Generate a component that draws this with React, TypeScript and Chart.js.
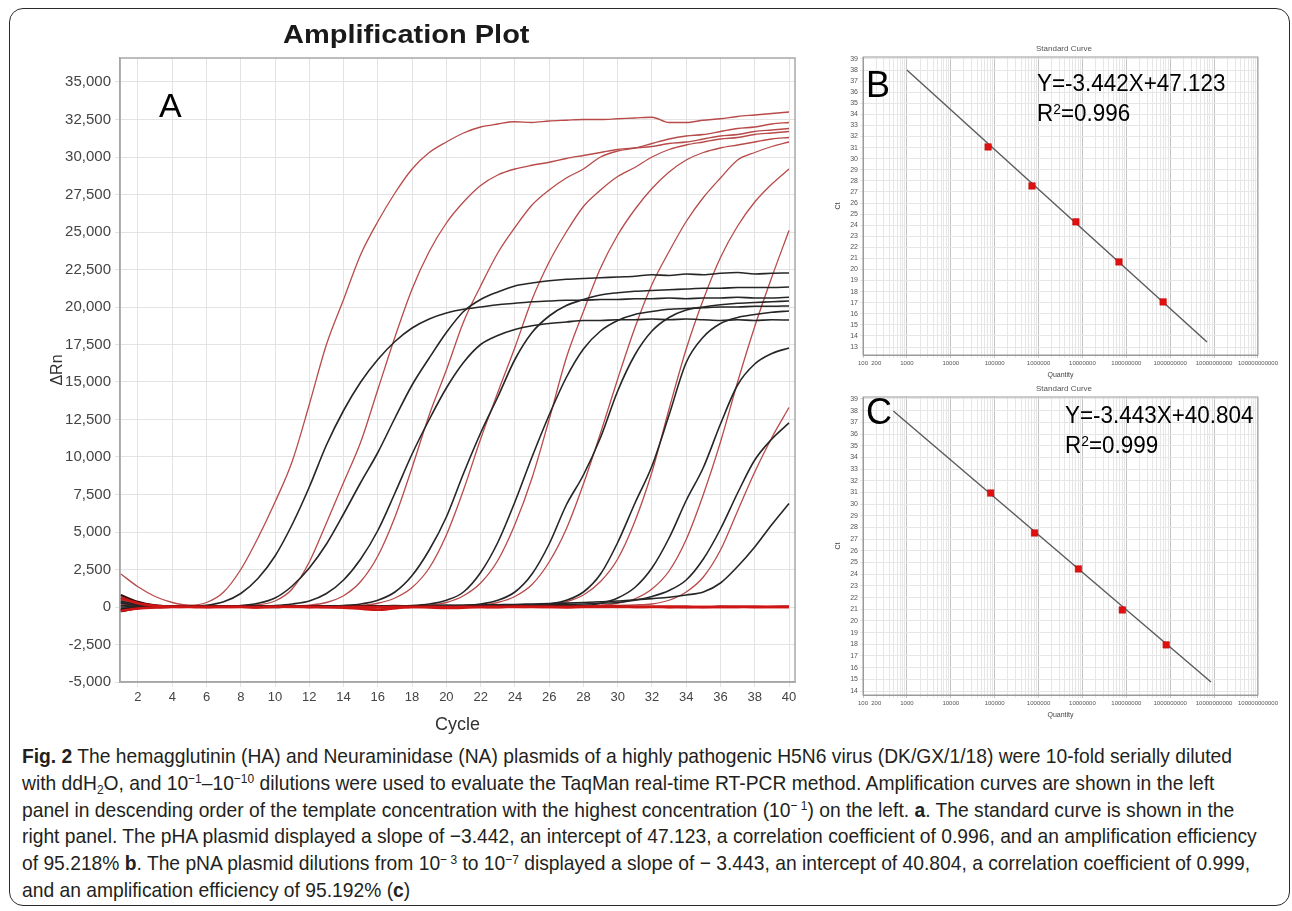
import React, { useEffect, useLayoutEffect, useRef, useState } from 'react';
import { Chart, registerables } from 'chart.js';

Chart.register(...registerables);

// ---------- Panel A data (Amplification Plot) ----------
const cycles = [1, 2, 3, 4, 5, 6, 7, 8, 9, 10, 11, 12, 13, 14, 15, 16, 17, 18, 19, 20, 21, 22, 23, 24, 25, 26, 27, 28, 29, 30, 31, 32, 33, 34, 35, 36, 37, 38, 39, 40];
const xTicksA = [2, 4, 6, 8, 10, 12, 14, 16, 18, 20, 22, 24, 26, 28, 30, 32, 34, 36, 38, 40];
const yTicksA = [-5000, -2500, 0, 2500, 5000, 7500, 10000, 12500, 15000, 17500, 20000, 22500, 25000, 27500, 30000, 32500, 35000];

const red1 = [2200, 1350, 700, 300, 120, 300, 1000, 2500, 4600, 7000, 9700, 13500, 17500, 20500, 23500, 25700, 27600, 29200, 30300, 31000, 31600, 32000, 32200, 32350, 32300, 32400, 32450, 32500, 32500, 32550, 32600, 32650, 32300, 32300, 32450, 32550, 32700, 32800, 32900, 33000];
const red2 = [350, 180, 90, 60, 50, 40, 50, 80, 150, 400, 1200, 3000, 5600, 8300, 11000, 14500, 18000, 21200, 23700, 25600, 27000, 28100, 28800, 29200, 29450, 29650, 29900, 30100, 30300, 30500, 30600, 30700, 30900, 31000, 31200, 31400, 31500, 31700, 31800, 31900];
const red3 = [-200, -50, 20, 40, 50, 50, 60, 50, 60, 70, 80, 120, 300, 750, 1700, 3400, 6000, 9300, 12800, 15800, 19000, 21400, 23600, 25300, 26800, 27800, 28600, 29200, 30000, 30400, 30600, 30900, 31200, 31400, 31500, 31700, 31900, 32000, 32200, 32300];
const red4 = [500, 200, 60, 30, 40, 50, 40, 60, 50, 60, 70, 60, 80, 70, 100, 250, 600, 1300, 2600, 4800, 7800, 11200, 14300, 17300, 20500, 23000, 25000, 26700, 27800, 28700, 29300, 30000, 30500, 30800, 31000, 31200, 31300, 31500, 31600, 31700];
const red5 = [100, 60, 40, 30, 20, 40, 50, 40, 30, 50, 60, 40, 50, 60, 50, 70, 60, 80, 120, 300, 750, 1600, 3100, 5500, 8600, 12500, 16600, 19700, 22600, 24800, 26500, 27900, 29000, 29800, 30300, 30600, 30800, 31000, 31200, 31300];
const red6 = [-300, -100, 0, 30, 40, 20, 30, 40, 50, 30, 40, 60, 50, 40, 60, 50, 70, 60, 50, 70, 80, 120, 300, 700, 1500, 3000, 5200, 8200, 11600, 15200, 18600, 21500, 23700, 25700, 27300, 28600, 29800, 30300, 30700, 31000];
const red7 = [700, 300, 100, 50, 40, 30, 40, 50, 60, 40, 30, 50, 60, 40, 50, -150, -100, 40, 60, 50, 70, 60, 80, 70, 90, 150, 350, 800, 1700, 3200, 5700, 9000, 13200, 17200, 20500, 23300, 25400, 27000, 28200, 29200];
const red8 = [200, 100, 60, 40, 30, 50, 40, 30, 50, 60, 40, 50, 30, 40, 60, 50, 40, 60, 50, 40, 60, 70, 50, 60, 70, 80, 90, 100, 120, 250, 550, 1200, 2400, 4500, 7500, 11000, 15000, 18700, 22000, 25100];
const red9 = [400, 150, 50, 30, 40, 30, 50, 40, 30, 50, 40, 60, 50, 40, 30, 50, 60, 40, 50, 60, 40, 50, 60, 70, 60, 80, 70, 90, 100, 110, 140, 200, 450, 1000, 2000, 3800, 6400, 9000, 11300, 13300];

const black1 = [-100, 0, 30, 40, 60, 120, 350, 900, 1900, 3400, 5500, 8000, 10800, 13100, 15000, 16500, 17700, 18600, 19200, 19600, 19850, 20000, 20150, 20250, 20350, 20400, 20450, 20450, 20500, 20500, 20550, 20550, 20600, 20550, 20600, 20600, 20650, 20600, 20600, 20650];
const black2 = [600, 300, 100, 50, 40, 50, 60, 100, 250, 600, 1400, 2600, 4200, 6200, 8300, 10300, 12600, 14800, 16600, 18300, 19700, 20500, 21000, 21400, 21600, 21750, 21850, 21900, 21950, 22000, 22050, 22150, 22100, 22200, 22150, 22250, 22300, 22200, 22250, 22270];
const black3 = [-200, -50, 20, 40, 50, 60, 40, 50, 60, 100, 200, 400, 900, 1800, 3200, 5100, 7600, 10200, 12500, 14600, 16300, 17500, 18100, 18500, 18750, 18900, 19000, 19100, 19100, 19150, 19150, 19200, 19150, 19200, 19150, 19100, 19150, 19100, 19150, 19130];
const black4 = [300, 100, 40, 30, 50, 40, 60, 50, 40, 60, 50, 70, 60, 100, 200, 450, 1000, 2100, 3800, 6000, 8900, 11600, 14000, 16500, 18300, 19400, 20100, 20500, 20800, 20950, 21050, 21100, 21150, 21200, 21250, 21250, 21300, 21300, 21300, 21330];
const black5 = [0, 50, 40, 30, 50, 40, 30, 60, 50, 40, 60, 50, 70, 60, 50, 70, 80, 100, 200, 450, 1000, 2300, 4300, 7000, 10000, 12800, 15300, 17200, 18400, 19100, 19500, 19700, 19850, 19900, 19950, 20000, 20000, 20050, 20050, 20070];
const black6 = [-150, 0, 30, 40, 30, 50, 40, 60, 50, 40, 60, 50, 40, 70, 60, 50, 60, 70, 80, 90, 100, 200, 450, 1000, 2200, 4200, 6800, 8800, 11300, 14400, 16800, 18400, 19300, 19800, 20000, 20150, 20250, 20300, 20350, 20400];
const black7 = [400, 150, 60, 40, 30, 50, 40, 30, 50, 60, 40, 50, 60, 70, 50, 60, 70, 80, 60, 70, 90, 100, 110, 90, 100, 200, 450, 1000, 2200, 4300, 6900, 9400, 12800, 16300, 18000, 18900, 19300, 19500, 19650, 19730];
const black8 = [100, 50, 30, 40, 50, 30, 40, 60, 50, 40, 30, 50, 60, 40, 50, 60, 70, 50, 60, 80, 70, 90, 80, 100, 110, 120, 100, 100, 250, 600, 1300, 2600, 4600, 7100, 9300, 12200, 14800, 16200, 16900, 17270];
const black9 = [-300, -100, 0, 30, 40, 50, 30, 40, 60, 50, 40, 60, 50, 70, 60, 50, 80, 70, 60, 90, 80, 100, 120, 110, 130, 150, 170, 200, 250, 300, 450, 700, 1100, 1800, 3200, 5200, 7600, 9800, 11200, 12270];
const black10 = [250, 120, 50, 40, 30, 50, 40, 60, 50, 40, 70, 60, 50, 80, 70, 60, 90, 80, 100, 110, 120, 130, 150, 170, 200, 230, 260, 300, 350, 400, 480, 560, 650, 800, 1000, 1600, 2700, 4000, 5500, 6900];

const redControl1 = [600, 250, 80, 20, 0, -20, 10, 0, -30, 20, 10, -10, 0, -40, -120, -180, -80, 0, 20, -10, 10, 0, -20, 10, 20, 0, -10, 10, 0, 20, 10, 0, -10, 10, 0, 10, 0, -10, 0, 10];
const redControl2 = [-250, -100, -30, 0, 20, 10, 0, 20, -10, 0, 30, 10, -20, 0, 10, -10, 20, 0, -30, -60, -40, 0, 10, 20, 0, 10, -10, 20, 30, 10, 0, 20, 10, 0, -10, 0, 10, 20, 0, 10];
const blackControl1 = [-200, -80, -20, 0, 10, 0, 20, 10, 0, -10, 20, 10, 0, 20, 10, 0, -10, 20, 10, 0, 10, 20, 0, 10, 0, 20, 10, 0, 10, 20, 0, 10, 0, -10, 0, 10, 0, 10, 0, 0];
const blackControl2 = [800, 350, 120, 40, 20, 30, 10, 20, 0, 10, 20, 30, 10, 0, 20, 10, 30, 20, 10, 0, 20, 10, 30, 20, 10, 0, 20, 10, 0, 20, 10, 0, 20, 10, 0, 10, 20, 0, 10, 20];

const redCurves = [red1, red2, red3, red4, red5, red6, red7, red8, red9];
const blackCurves = [black1, black2, black3, black4, black5, black6, black7, black8, black9, black10];
const redControls = [redControl1, redControl2];
const blackControls = [blackControl1, blackControl2];

// ---------- Panel B data (pHA standard curve) ----------
const bQuantity = [71000, 710000, 7100000, 68000000, 690000000];
const bCt = [31.06, 27.54, 24.3, 20.68, 17.07];
const bFitQuantity = [1000, 6900000000];
const bFitCt = [38.0, 13.46];
const yTicksB = [13, 14, 15, 16, 17, 18, 19, 20, 21, 22, 23, 24, 25, 26, 27, 28, 29, 30, 31, 32, 33, 34, 35, 36, 37, 38, 39];

// ---------- Panel C data (pNA standard curve) ----------
const cQuantity = [81000, 810000, 8100000, 81000000, 810000000];
const cCt = [30.95, 27.53, 24.45, 20.94, 17.95];
const cFitQuantity = [490, 8500000000];
const cFitCt = [37.97, 14.77];
const yTicksC = [14, 15, 16, 17, 18, 19, 20, 21, 22, 23, 24, 25, 26, 27, 28, 29, 30, 31, 32, 33, 34, 35, 36, 37, 38, 39];

const xLabelQuantities = [100, 200, 1000, 10000, 100000, 1000000, 10000000, 100000000, 1000000000, 10000000000, 100000000000];

const FONT = "'Liberation Sans', Arial, sans-serif";

const framePlugin = {
  id: 'frame',
  beforeDatasetsDraw(chart: any, _args: any, opts: any) {
    const { ctx, chartArea } = chart;
    ctx.save();
    ctx.strokeStyle = opts.color || '#999';
    ctx.lineWidth = opts.width || 1;
    ctx.strokeRect(chartArea.left, chartArea.top, chartArea.right - chartArea.left, chartArea.bottom - chartArea.top);
    ctx.restore();
  },
};

function AmplificationChart() {
  const ref = useRef<HTMLCanvasElement>(null);
  useEffect(() => {
    const toPts = (arr: number[]) => arr.map((v, i) => ({ x: cycles[i], y: v }));
    const common = { pointRadius: 0, cubicInterpolationMode: 'monotone' };
    const datasets: any[] = [];
    redControls.forEach((d) => datasets.push({ ...common, data: toPts(d), borderColor: '#d01515', borderWidth: 2.6 }));
    blackControls.forEach((d) => datasets.push({ ...common, data: toPts(d), borderColor: '#3a0a0a', borderWidth: 2 }));
    blackCurves.forEach((d) => datasets.push({ ...common, data: toPts(d), borderColor: '#262626', borderWidth: 1.6 }));
    redCurves.forEach((d) => datasets.push({ ...common, data: toPts(d), borderColor: '#b84a4a', borderWidth: 1.3 }));
    const chart = new Chart(ref.current!, {
      type: 'line',
      data: { datasets },
      plugins: [framePlugin],
      options: {
        responsive: false,
        animation: false,
        events: [],
        layout: { padding: { left: 48, right: 25, top: 58, bottom: 0 } },
        plugins: {
          legend: { display: false },
          tooltip: { enabled: false },
          frame: { color: '#a8a8a8', width: 1.5 },
        } as any,
        scales: {
          x: {
            type: 'linear',
            min: 0.95,
            max: 40.35,
            afterBuildTicks: (s: any) => { s.ticks = xTicksA.map((v) => ({ value: v })); },
            afterFit: (s: any) => { s.height = 58; },
            ticks: { font: { family: FONT, size: 13 }, color: '#444', padding: 3, maxRotation: 0, autoSkip: false },
            grid: { color: '#e3e3e3', tickLength: 5, lineWidth: 1 },
            border: { color: '#a0a0a0', width: 1.5 },
            title: { display: true, text: 'Cycle', font: { family: FONT, size: 18 }, color: '#333', padding: { top: 2, bottom: 4 } },
          },
          y: {
            type: 'linear',
            min: -5000,
            max: 36600,
            afterBuildTicks: (s: any) => { s.ticks = yTicksA.map((v) => ({ value: v })); },
            afterFit: (s: any) => { s.width = 72; },
            ticks: { font: { family: FONT, size: 15 }, color: '#444', padding: 4, callback: (v: any) => Number(v).toLocaleString('en-US') },
            grid: { color: '#e3e3e3', tickLength: 5, lineWidth: 1 },
            border: { color: '#a0a0a0', width: 1.5 },
            title: { display: true, text: 'ΔRn', font: { family: FONT, size: 16 }, color: '#333', padding: { top: 0, bottom: 2 } },
          },
        },
      } as any,
    });
    return () => chart.destroy();
  }, []);
  return <canvas ref={ref} width={820} height={740} style={{ position: 'absolute', left: 0, top: 0, width: 820, height: 740 }} />;
}

function StandardCurve(props: { top: number; q: number[]; ct: number[]; fq: number[]; fct: number[]; yTicks: number[]; yMin: number; yMax: number }) {
  const ref = useRef<HTMLCanvasElement>(null);
  useEffect(() => {
    const chart = new Chart(ref.current!, {
      type: 'scatter',
      data: {
        datasets: [
          {
            type: 'scatter',
            data: props.q.map((v, i) => ({ x: v, y: props.ct[i] })),
            backgroundColor: '#e01010',
            borderColor: '#c00000',
            borderWidth: 0.5,
            pointStyle: 'rect',
            pointRadius: 4.6,
          },
          {
            type: 'line',
            data: props.fq.map((v, i) => ({ x: v, y: props.fct[i] })),
            borderColor: '#5a5a5a',
            borderWidth: 1.4,
            pointRadius: 0,
          },
        ],
      },
      plugins: [framePlugin],
      options: {
        responsive: false,
        animation: false,
        events: [],
        layout: { padding: { left: 3, right: 12, top: 17, bottom: 0 } },
        plugins: { legend: { display: false }, tooltip: { enabled: false }, frame: { color: '#9a9a9a', width: 1 } } as any,
        scales: {
          x: {
            type: 'logarithmic',
            min: 100,
            max: 100000000000,
            afterBuildTicks: (s: any) => {
              const t: any[] = [];
              for (let e = 2; e <= 10; e++) for (let m = 1; m <= 9; m++) t.push({ value: m * Math.pow(10, e) });
              t.push({ value: 100000000000 });
              s.ticks = t;
            },
            afterFit: (s: any) => { s.height = 25; },
            ticks: {
              autoSkip: false,
              maxRotation: 0,
              font: { family: FONT, size: 6 },
              color: '#555',
              padding: 2,
              callback: (v: any) => (xLabelQuantities.some((q) => Math.abs(q - Number(v)) / q < 1e-6) ? String(Math.round(Number(v))) : ''),
            },
            grid: {
              color: (c: any) => {
                const v = c.tick ? c.tick.value : 1;
                const lg = Math.log10(v);
                return Math.abs(lg - Math.round(lg)) < 1e-6 ? '#c4c4c4' : '#e6e6e6';
              },
              tickLength: 3,
            },
            border: { color: '#9a9a9a' },
            title: { display: true, text: 'Quantity', font: { family: FONT, size: 7 }, color: '#444', padding: { top: 1, bottom: 1 } },
          },
          y: {
            type: 'linear',
            min: props.yMin,
            max: props.yMax,
            afterBuildTicks: (s: any) => { s.ticks = props.yTicks.map((v) => ({ value: v })); },
            afterFit: (s: any) => { s.width = 30; },
            ticks: { font: { family: FONT, size: 7 }, color: '#555', padding: 2 },
            grid: { color: '#e6e6e6', tickLength: 3 },
            border: { color: '#9a9a9a' },
            title: { display: true, text: 'Ct', font: { family: FONT, size: 7 }, color: '#444', padding: { top: 1, bottom: 1 } },
          },
        },
      } as any,
    });
    return () => chart.destroy();
  }, []);
  return <canvas ref={ref} width={450} height={340} style={{ position: 'absolute', left: 830, top: props.top, width: 450, height: 340 }} />;
}

const supStyle: React.CSSProperties = { fontSize: '0.62em', position: 'relative', top: '-0.5em', lineHeight: 0, verticalAlign: 'baseline' };
const subStyle: React.CSSProperties = { fontSize: '0.62em', position: 'relative', top: '0.3em', lineHeight: 0, verticalAlign: 'baseline' };
const Sup = ({ children }: { children: React.ReactNode }) => <span style={supStyle}>{children}</span>;
const Sub = ({ children }: { children: React.ReactNode }) => <span style={subStyle}>{children}</span>;

const captionLines: React.ReactNode[] = [
  <><b>Fig. 2</b> The hemagglutinin (HA) and Neuraminidase (NA) plasmids of a highly pathogenic H5N6 virus (DK/GX/1/18) were 10-fold serially diluted</>,
  <>with ddH<Sub>2</Sub>O, and 10<Sup>−1</Sup>–10<Sup>−10</Sup> dilutions were used to evaluate the TaqMan real-time RT-PCR method. Amplification curves are shown in the left</>,
  <>panel in descending order of the template concentration with the highest concentration (10<Sup>− 1</Sup>) on the left. <b>a</b>. The standard curve is shown in the</>,
  <>right panel. The pHA plasmid displayed a slope of −3.442, an intercept of 47.123, a correlation coefficient of 0.996, and an amplification efficiency</>,
  <>of 95.218% <b>b</b>. The pNA plasmid dilutions from 10<Sup>− 3</Sup> to 10<Sup>−7</Sup> displayed a slope of − 3.443, an intercept of 40.804, a correlation coefficient of 0.999,</>,
  <>and an amplification efficiency of 95.192% (<b>c</b>)</>,
];

export default function App() {
  const l1 = useRef<HTMLSpanElement>(null);
  const [scale, setScale] = useState(1);
  useLayoutEffect(() => {
    if (l1.current) {
      const w = l1.current.getBoundingClientRect().width;
      if (w > 0) setScale(1210 / w);
    }
  }, []);
  const abs = (l: number, t: number, extra: React.CSSProperties = {}): React.CSSProperties => ({ position: 'absolute', left: l, top: t, whiteSpace: 'nowrap', ...extra });
  const eq: React.CSSProperties = { fontSize: 24, color: '#000', transform: 'scaleX(0.935)', transformOrigin: 'left top' };
  return (
    <div style={{ position: 'absolute', left: 0, top: 0, width: 1292, height: 911, background: '#fff', overflow: 'hidden', fontFamily: FONT }}>
      <div style={{ position: 'absolute', left: 9, top: 8, width: 1279, height: 896, border: '1.5px solid #2a2a2a', borderRadius: 14 }} />
      <AmplificationChart />
      <StandardCurve top={40} q={bQuantity} ct={bCt} fq={bFitQuantity} fct={bFitCt} yTicks={yTicksB} yMin={12.28} yMax={39.18} />
      <StandardCurve top={380} q={cQuantity} ct={cCt} fq={cFitQuantity} fct={cFitCt} yTicks={yTicksC} yMin={13.66} yMax={39.17} />

      <div style={abs(283, 20, { fontSize: 25, fontWeight: 'bold', color: '#1a1a1a', transform: 'scaleX(1.16)', transformOrigin: 'left top' })}>Amplification Plot</div>
      <div style={abs(159, 86, { fontSize: 34, color: '#000' })}>A</div>

      <div style={abs(1036, 44, { fontSize: 8, color: '#555' })}>Standard Curve</div>
      <div style={abs(866, 64, { fontSize: 36, color: '#000' })}>B</div>
      <div style={abs(1037, 69, eq)}>Y=-3.442X+47.123</div>
      <div style={abs(1037, 99, eq)}>R<Sup>2</Sup>=0.996</div>

      <div style={abs(1036, 384, { fontSize: 8, color: '#555' })}>Standard Curve</div>
      <div style={abs(866, 391, { fontSize: 36, color: '#000' })}>C</div>
      <div style={abs(1065, 401, eq)}>Y=-3.443X+40.804</div>
      <div style={abs(1065, 431, eq)}>R<Sup>2</Sup>=0.999</div>

      <div style={{ position: 'absolute', left: 22, top: 743, fontSize: 21, lineHeight: '26.8px', color: '#231f20', transform: `scaleX(${scale})`, transformOrigin: 'left top' }}>
        {captionLines.map((ln, i) => (
          <div key={i} style={{ whiteSpace: 'nowrap', height: 26.8, lineHeight: '26.8px' }}>
            <span ref={i === 0 ? l1 : undefined} style={{ display: 'inline-block' }}>{ln}</span>
          </div>
        ))}
      </div>
    </div>
  );
}
